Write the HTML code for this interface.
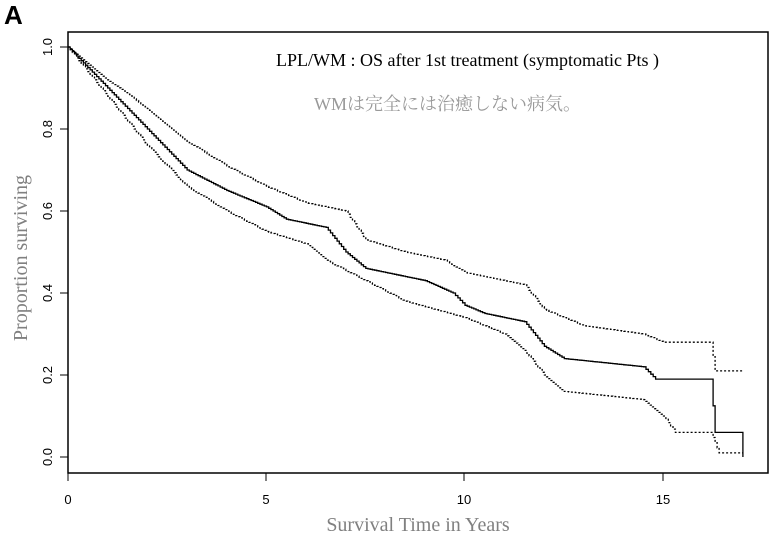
<!DOCTYPE html>
<html><head><meta charset="utf-8"><style>
html,body{margin:0;padding:0;background:#fff;width:771px;height:551px;overflow:hidden}
text{font-family:"Liberation Serif","Noto Serif CJK SC",serif}
text.s{font-family:"Liberation Sans",sans-serif}
</style></head><body>
<svg id="s" width="771" height="551" xmlns="http://www.w3.org/2000/svg">
<text class="s" x="4" y="24" font-weight="bold" font-size="26">A</text>
<rect x="68" y="32" width="700" height="441" fill="none" stroke="#000" stroke-width="1.5"/>
<g stroke="#000" stroke-width="1">
<line x1="68" y1="473" x2="68" y2="481"/><line x1="266" y1="473" x2="266" y2="481"/>
<line x1="464" y1="473" x2="464" y2="481"/><line x1="663" y1="473" x2="663" y2="481"/>
<line x1="60" y1="457" x2="68" y2="457"/><line x1="60" y1="375" x2="68" y2="375"/>
<line x1="60" y1="293" x2="68" y2="293"/><line x1="60" y1="211" x2="68" y2="211"/>
<line x1="60" y1="129" x2="68" y2="129"/><line x1="60" y1="47" x2="68" y2="47"/>
</g>
<g font-size="13" fill="#000" text-anchor="middle">
<text class="s" x="68" y="504">0</text><text class="s" x="266" y="504">5</text><text class="s" x="464" y="504">10</text><text class="s" x="663" y="504">15</text>
<text class="s" transform="translate(52,457) rotate(-90)">0.0</text>
<text class="s" transform="translate(52,375) rotate(-90)">0.2</text>
<text class="s" transform="translate(52,293) rotate(-90)">0.4</text>
<text class="s" transform="translate(52,211) rotate(-90)">0.6</text>
<text class="s" transform="translate(52,129) rotate(-90)">0.8</text>
<text class="s" transform="translate(52,47) rotate(-90)">1.0</text>
</g>
<text x="418" y="531" font-size="20" fill="#808080" text-anchor="middle">Survival Time in Years</text>
<text transform="translate(27,258) rotate(-90)" font-size="20" fill="#808080" text-anchor="middle">Proportion surviving</text>
<text x="276" y="66" font-size="18" fill="#000">LPL/WM : OS after 1st treatment (symptomatic Pts )</text>
<text x="314" y="110" font-size="18" fill="#999">WMは完全には治癒しない病気。</text>
<g id="c" fill="none" stroke="#000"></g>
</svg>
<script>
function X(t){return 68+39.7*t}function Y(s){return 457-410*s}
function steps(k){var d="M"+X(k[0][0])+","+Y(k[0][1]);
for(var i=1;i<k.length;i++){var a=k[i-1],b=k[i];var n=Math.abs(b[1]-a[1])>0.005?Math.max(1,Math.round((b[0]-a[0])*18)):1;
for(var j=1;j<=n;j++){var t=a[0]+(b[0]-a[0])*j/n,s2=a[1]+(b[1]-a[1])*j/n;d+=" H"+X(t).toFixed(1)+" V"+Y(s2).toFixed(1);}}
return d;}
var main=[[0,1],[1,0.9],[2,0.8],[3,0.7],[4,0.65],[5,0.61],[5.5,0.58],[6.5,0.56],[7,0.5],[7.5,0.46],[8,0.45],[9,0.43],[9.7,0.4],[10,0.37],[10.5,0.35],[11.5,0.33],[12,0.27],[12.5,0.24],[14.5,0.22],[14.8,0.19],[16.2,0.19],[16.3,0.06],[17,0.06],[17,0.0]];
var up=[[0,1],[1,0.92],[2,0.85],[3,0.77],[4,0.71],[5,0.66],[6,0.62],[7,0.6],[7.5,0.53],[8.5,0.5],[9.5,0.48],[10,0.45],[11.5,0.42],[12,0.36],[13,0.32],[14.5,0.3],[15,0.28],[16.2,0.28],[16.3,0.21],[17,0.21]];
var lo=[[0,1],[1,0.88],[2,0.76],[3,0.66],[4,0.6],[5,0.55],[6,0.52],[6.5,0.48],[7.5,0.43],[8.5,0.38],[10,0.34],[11,0.3],[11.5,0.26],[12,0.2],[12.5,0.16],[14.5,0.14],[15,0.1],[15.3,0.06],[16.2,0.06],[16.4,0.01],[17,0.01]];
var g=document.getElementById("c");
[[main,""],[up,"2,2"],[lo,"2,2"]].forEach(function(a){var p=document.createElementNS("http://www.w3.org/2000/svg","path");p.setAttribute("d",steps(a[0]));p.setAttribute("stroke-width","1.3");if(a[1])p.setAttribute("stroke-dasharray",a[1]);g.appendChild(p);});
</script>
</body></html>
